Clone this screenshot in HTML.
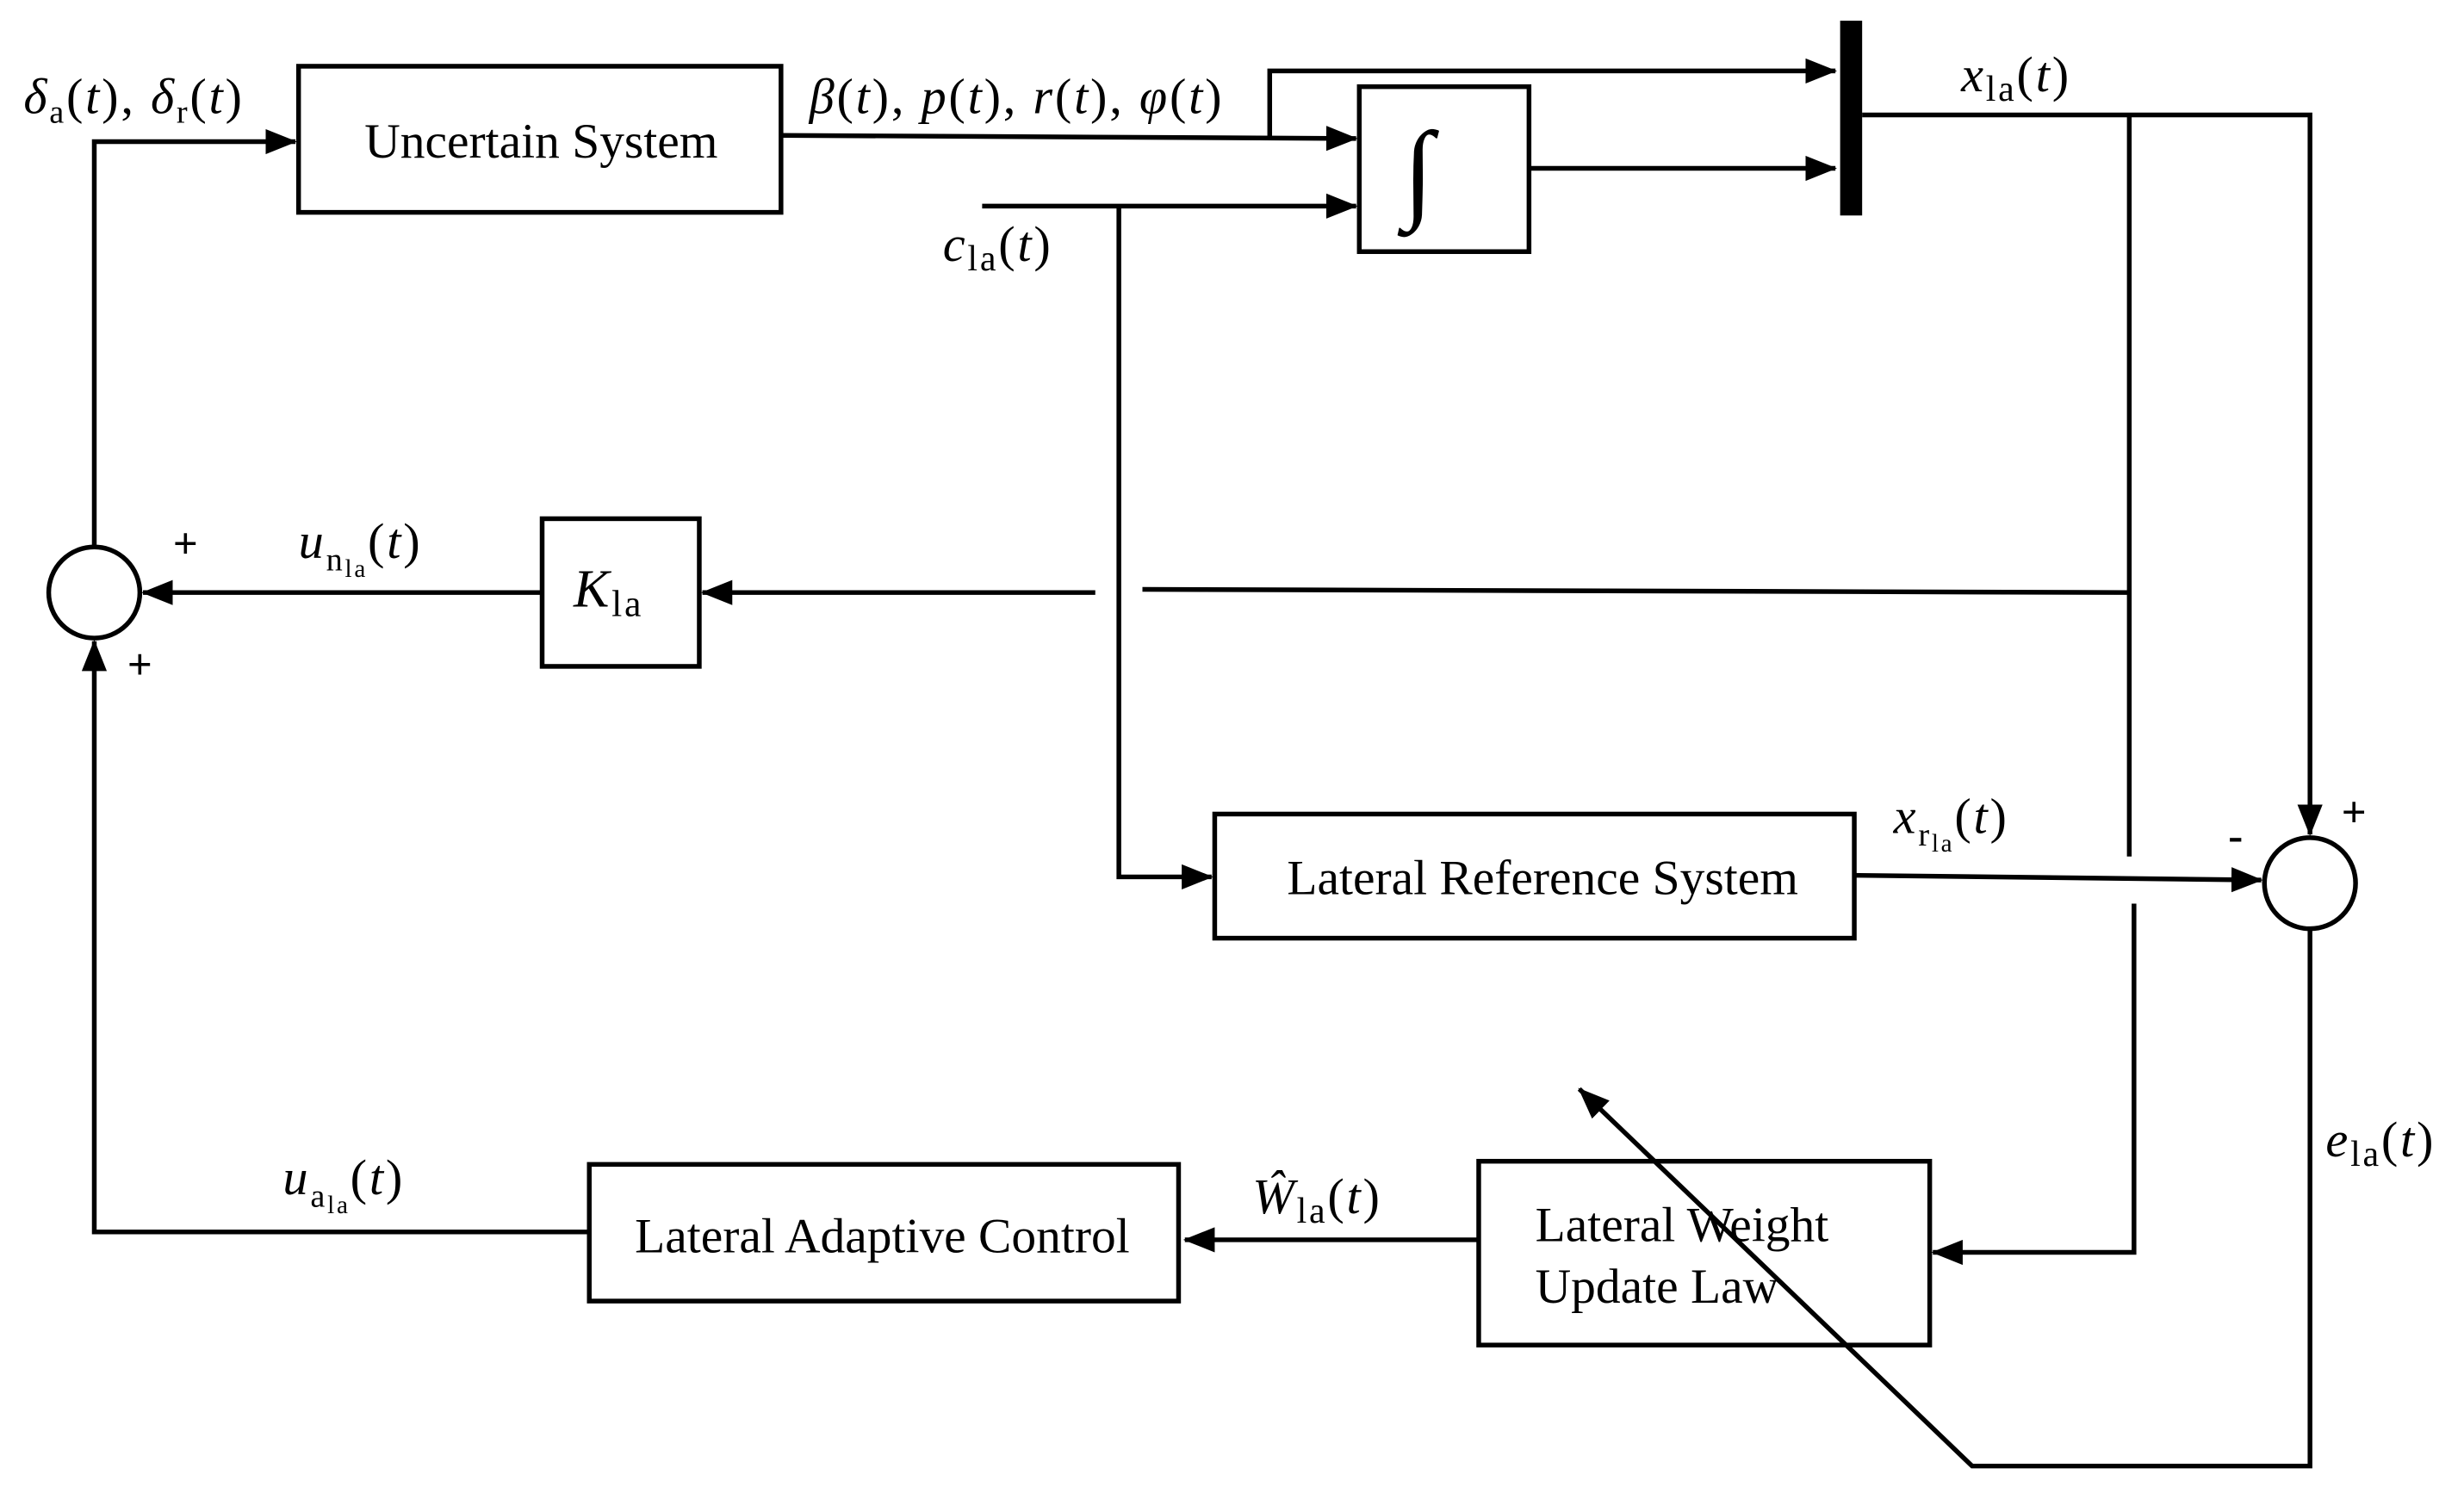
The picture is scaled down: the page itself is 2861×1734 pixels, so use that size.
<!DOCTYPE html>
<html><head><meta charset="utf-8"><style>
html,body{margin:0;padding:0;background:#fff;}
svg{display:block;}
text{font-family:"Liberation Serif",serif;fill:#000;}
.i{font-style:italic;}
</style></head><body>
<svg width="2861" height="1734" viewBox="0 0 1568 950" xmlns="http://www.w3.org/2000/svg">
<defs>
<marker id="b" markerWidth="20" markerHeight="16" refX="19" refY="8" orient="auto" markerUnits="userSpaceOnUse" viewBox="0 0 20 16"><path d="M0,0 L20,8 L0,16 z" fill="#000"/></marker></defs>
<g stroke="#000" stroke-width="3" fill="none">
<rect x="190" y="42" width="307" height="93"/>
<rect x="865" y="55" width="108" height="105"/>
<rect x="345" y="330" width="100" height="94"/>
<rect x="773" y="518" width="407" height="79"/>
<rect x="941" y="739" width="287" height="117"/>
<rect x="375" y="741" width="375" height="87"/>
<circle cx="60" cy="377" r="29"/>
<circle cx="1470" cy="562" r="29"/>
<polyline points="60,348 60,90 188,90" marker-end="url(#b)"/>
<polyline points="497,86 863,88" marker-end="url(#b)"/>
<polyline points="808,88 808,45 1168,45" marker-end="url(#b)"/>
<polyline points="625,131 863,131" marker-end="url(#b)"/>
<polyline points="712,131 712,558 771,558" marker-end="url(#b)"/>
<polyline points="973,107 1168,107" marker-end="url(#b)"/>
<polyline points="1185,73 1470,73 1470,531" marker-end="url(#b)"/>
<polyline points="1355,73 1355,545"/>
<polyline points="1358,575 1358,797 1230,797" marker-end="url(#b)"/>
<polyline points="1355,377 727,375"/>
<polyline points="697,377 447,377" marker-end="url(#b)"/>
<polyline points="345,377 91,377" marker-end="url(#b)"/>
<polyline points="1180,557 1439,560" marker-end="url(#b)"/>
<polyline points="1470,591 1470,933 1255,933 1005,693" marker-end="url(#b)"/>
<polyline points="941,789 754,789" marker-end="url(#b)"/>
<polyline points="375,784 60,784 60,408" marker-end="url(#b)"/>
</g>
<rect x="1171" y="13" width="14" height="124" fill="#000"/>
<g font-size="31.5">
<text x="232" y="100">Uncertain System</text>
<text x="819" y="569">Lateral Reference System</text>
<text x="977" y="790">Lateral Weight</text>
<text x="977" y="829">Update Law</text>
<text x="404" y="797">Lateral Adaptive Control</text>
</g>
<g font-size="32" letter-spacing="1.5">
<text x="893" y="132" font-size="70" class="i">∫</text>
<text x="365" y="386" class="i" font-size="34">K<tspan font-style="normal" font-size="24" dy="6">la</tspan></text>
<text x="15" y="72" class="i">δ<tspan font-style="normal" font-size="21" dy="6">a</tspan><tspan dy="-6" font-style="normal">(</tspan>t<tspan font-style="normal">), </tspan>δ<tspan font-style="normal" font-size="21" dy="6">r</tspan><tspan dy="-6" font-style="normal">(</tspan>t<tspan font-style="normal">)</tspan></text>
<text x="515" y="72" class="i">β<tspan font-style="normal">(</tspan>t<tspan font-style="normal">), </tspan>p<tspan font-style="normal">(</tspan>t<tspan font-style="normal">), </tspan>r<tspan font-style="normal">(</tspan>t<tspan font-style="normal">), </tspan>φ<tspan font-style="normal">(</tspan>t<tspan font-style="normal">)</tspan></text>
<text x="600" y="166" class="i">c<tspan font-style="normal" font-size="23" dy="6">la</tspan><tspan dy="-6" font-style="normal">(</tspan>t<tspan font-style="normal">)</tspan></text>
<text x="1248" y="58" class="i">x<tspan font-style="normal" font-size="23" dy="6">la</tspan><tspan dy="-6" font-style="normal">(</tspan>t<tspan font-style="normal">)</tspan></text>
<text x="190" y="355" class="i">u<tspan font-style="normal" font-size="21" dy="8">n</tspan><tspan font-style="normal" font-size="16" dy="4">la</tspan><tspan dy="-12" font-style="normal">(</tspan>t<tspan font-style="normal">)</tspan></text>
<text x="1205" y="530" class="i">x<tspan font-style="normal" font-size="21" dy="8">r</tspan><tspan font-style="normal" font-size="16" dy="4">la</tspan><tspan dy="-12" font-style="normal">(</tspan>t<tspan font-style="normal">)</tspan></text>
<text x="180" y="760" class="i">u<tspan font-style="normal" font-size="21" dy="8">a</tspan><tspan font-style="normal" font-size="16" dy="4">la</tspan><tspan dy="-12" font-style="normal">(</tspan>t<tspan font-style="normal">)</tspan></text>
<text x="797" y="772" class="i">Ŵ<tspan font-style="normal" font-size="23" dy="6">la</tspan><tspan dy="-6" font-style="normal">(</tspan>t<tspan font-style="normal">)</tspan></text>
<text x="1480" y="736" class="i">e<tspan font-style="normal" font-size="23" dy="6">la</tspan><tspan dy="-6" font-style="normal">(</tspan>t<tspan font-style="normal">)</tspan></text>
</g>
<g font-size="28" font-weight="bold">
<text x="110" y="355" font-family="Liberation Sans,sans-serif">+</text>
<text x="81" y="432" font-family="Liberation Sans,sans-serif">+</text>
<text x="1490" y="526" font-family="Liberation Sans,sans-serif">+</text>
<text x="1418" y="541" font-family="Liberation Sans,sans-serif">-</text>
</g>
</svg>
</body></html>
